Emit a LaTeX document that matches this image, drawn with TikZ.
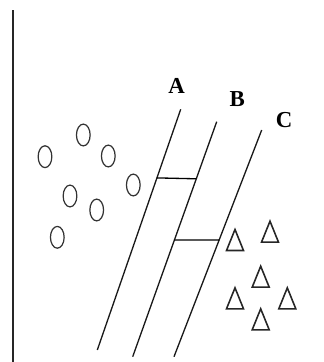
\documentclass[tikz,border=0pt]{standalone}
\usepackage{fontspec}
\setmainfont{Liberation Serif}
\usetikzlibrary{shapes.geometric, calc}
\tikzset{
  axis/.style={line width=1.1pt, color=black!85},
  plane/.style={line width=0.75pt, color=black!90},
  margin/.style={line width=0.75pt, color=black},
  zero/.style={ellipse, draw=black!80, line width=0.7pt, minimum width=7.8pt,
               minimum height=12.4pt, inner sep=0pt},
  tri/.style={line width=0.9pt, color=black!85, line join=miter},
  lbl/.style={font=\fontsize{13}{15}\selectfont\bfseries, inner sep=0pt},
}

\begin{document}
\begin{tikzpicture}[x=0.02cm, y=-0.02cm]
  \useasboundingbox (0,0) rectangle (324,362);

  % left border line
  \coordinate (axtop) at (13,10);
  \coordinate (axbot) at (13,362);
  \draw[axis] (axtop) -- (axbot);

  % separating lines A, B, C
  \coordinate (Atop) at (180.7,109.3);
  \coordinate (Abot) at (97.3,350);
  \coordinate (Btop) at (216.7,121.7);
  \coordinate (Bbot) at (132.7,356.7);
  \coordinate (Ctop) at (261.7,130);
  \coordinate (Cbot) at (174,356.7);
  \draw[plane] (Atop) -- (Abot);
  \draw[plane] (Btop) -- (Bbot);
  \draw[plane] (Ctop) -- (Cbot);

  \node[lbl] (labA) at (176.7,86) {A};
  \node[lbl] (labB) at (237.3,99.3) {B};
  \node[lbl] (labC) at (284,120) {C};

  % margins between lines
  \coordinate (mA) at ($(Atop)!0.285!(Abot)$);
  \coordinate (mB) at ($(Btop)!0.243!(Bbot)$);
  \coordinate (nB) at ($(Btop)!0.503!(Bbot)$);
  \coordinate (nC) at ($(Ctop)!0.485!(Cbot)$);
  \draw[margin] (mA) -- (mB);
  \draw[margin] (nB) -- (nC);

  % class one: zeros
  \foreach \px/\py [count=\i] in {45/156.7, 83.3/135, 108.3/156, 133.3/185,
                                  70/196, 96.7/210, 57.3/237.3}
    \node[zero] (o\i) at (\px,\py) {};

  % class two: triangles
  \foreach \px/\py in {235/240, 270/231.7, 260.7/276.7, 235/298.3,
                       287.3/298.3, 260.7/319.3}
    \draw[tri] (\px,\py) ++(-8.5,10.5) -- ++(8.5,-21) -- ++(8.5,21) -- cycle;

\end{tikzpicture}
\end{document}
